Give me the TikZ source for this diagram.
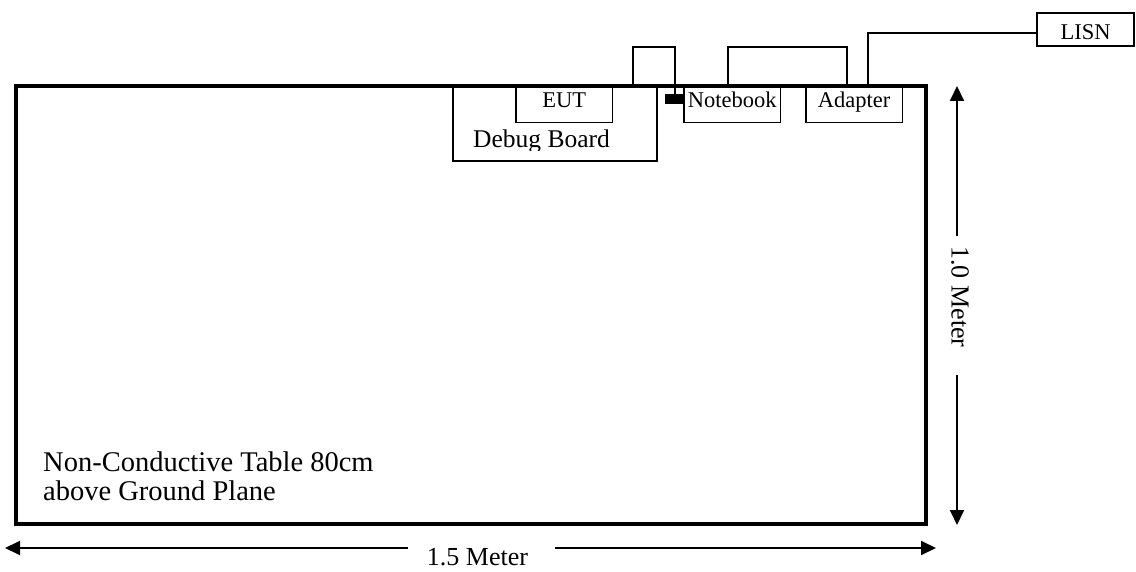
\documentclass[tikz,border=0pt]{standalone}
\usepackage{fontspec}
\setmainfont{Liberation Serif}
\usetikzlibrary{arrows.meta,calc}
\begin{document}
\begin{tikzpicture}[x=1pt,y=-1pt,
  box/.style={draw, line width=1.5pt, inner sep=0pt, font=\fontsize{22.5}{24}\selectfont},
  smallbox/.style={box, minimum width=96.3pt, minimum height=36.3pt, text height=15pt, text depth=7.4pt},
  cable/.style={line width=2pt},
  dim/.style={line width=2pt, -{Triangle[length=15pt,width=14pt]}},
  lbl/.style={font=\fontsize{26}{28}\selectfont, inner sep=0pt}]
\useasboundingbox (0,0) rectangle (1136,572);
% table
\node[draw, line width=4pt, minimum width=910pt, minimum height=437.5pt, inner sep=0pt] (table) at (470.5,304.75) {};
% debug board
\node[draw, line width=2pt, minimum width=204pt, minimum height=75pt, inner sep=0pt] (debug) at (554.7,123.5) {};
\begin{scope}
\clip (440,100) rectangle (660,150.5);
\node[lbl, font=\fontsize{25.5}{27}\selectfont, anchor=base] (debugtxt) at (541.5,148) {Debug Board};
\end{scope}
% boxes
\node[smallbox] (eut) at (564.2,104.2) {EUT};
\node[smallbox] (notebook) at (732.2,104.2) {Notebook};
\node[smallbox] (adapter) at (854.2,104.2) {Adapter};
\node[box, line width=2pt, minimum width=97.3pt, minimum height=33pt, text height=20.2pt, text depth=0pt] (lisn) at (1085.7,29.2) {LISN};
\node[fill=black, minimum width=20pt, minimum height=10pt, inner sep=0pt] (plug) at (675,99) {};
% cables
\coordinate (c1) at (633.3,86);
\draw[cable] (c1) -- ++(0,-39.3) -| (plug.north);
\draw[cable] ([xshift=-3.9pt]notebook.north) -- ++(0,-38.7) -| ([xshift=-7.5pt]adapter.north);
\draw[cable] ([xshift=14.1pt]adapter.north) |- ($(lisn.west)+(0,3.5)$);
% vertical dimension
\coordinate (vt) at (957,86);
\coordinate (vb) at (957,525);
\coordinate (vg1) at (957,236);
\coordinate (vg2) at (957,375);
\draw[dim] (vg1) -- (vt);
\draw[dim] (vg2) -- (vb);
\node[lbl, rotate=-90] (vlab) at (960,297) {1.0 Meter};
% horizontal dimension
\coordinate (hl) at (5,548);
\coordinate (hr) at (936,548);
\coordinate (hg1) at (408,548);
\coordinate (hg2) at (555,548);
\draw[dim] (hg1) -- (hl);
\draw[dim] (hg2) -- (hr);
\node[lbl] (hlab) at (477.5,557.5) {1.5 Meter};
% note
\node[anchor=north west, inner sep=0pt, align=left, font=\fontsize{28.5}{28.3}\selectfont] (note) at (43,452) {Non-Conductive Table 80cm\\above Ground Plane};
\end{tikzpicture}
\end{document}
